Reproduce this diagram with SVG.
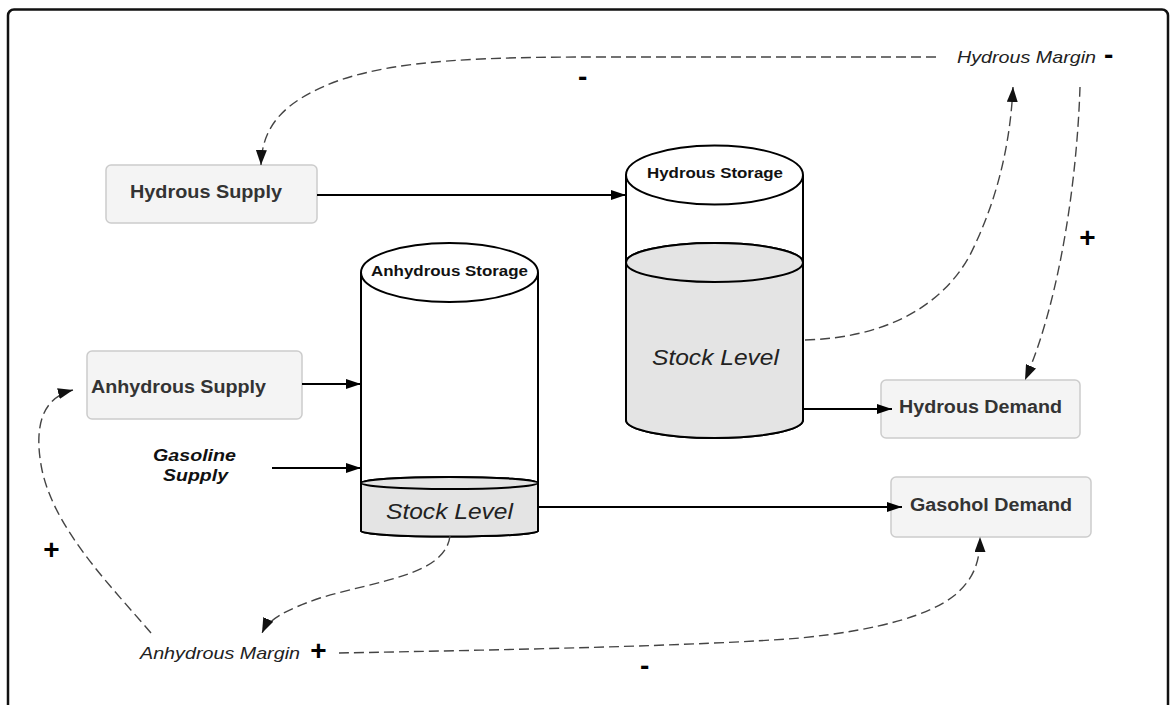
<svg xmlns="http://www.w3.org/2000/svg" width="1174" height="705" viewBox="0 0 1174 705">
  <defs>
    <marker id="arrow" viewBox="0 0 15 10" refX="15" refY="5" markerWidth="15" markerHeight="10" markerUnits="userSpaceOnUse" orient="auto">
      <path d="M0,0 L15,5 L0,10 Z" fill="#000"/>
    </marker>
    <marker id="arrow-d" viewBox="0 0 15 11" refX="15" refY="5.5" markerWidth="15" markerHeight="11" markerUnits="userSpaceOnUse" orient="auto">
      <path d="M0,0 L15,5.5 L0,11 Z" fill="#111"/>
    </marker>
  </defs>
  <style>
    .frame { fill: #fff; stroke: #111; stroke-width: 2.5; }
    .box { fill: #f4f4f4; stroke: #cccccc; stroke-width: 1.5; }
    .box-label { font-family: "Liberation Sans", Arial, sans-serif; font-weight: bold; font-size: 17.5px; fill: #333; }
    .tank { fill: #fff; stroke: #000; stroke-width: 2; }
    .stock { fill: #e4e4e4; stroke: #000; stroke-width: 2; }
    .tank-title { font-family: "Liberation Sans", Arial, sans-serif; font-weight: bold; font-size: 14.5px; fill: #111; }
    .stock-label { font-family: "Liberation Sans", Arial, sans-serif; font-style: italic; font-size: 22px; fill: #222; }
    .var-label { font-family: "Liberation Sans", Arial, sans-serif; font-style: italic; font-size: 17px; fill: #222; }
    .input-label { font-family: "Liberation Sans", Arial, sans-serif; font-style: italic; font-weight: bold; font-size: 17px; fill: #111; }
    .sign { font-family: "Liberation Sans", Arial, sans-serif; font-weight: bold; font-size: 28px; fill: #000; }
    .flow { fill: none; stroke: #000; stroke-width: 2; marker-end: url(#arrow); }
    .link { fill: none; stroke: #444; stroke-width: 1.4; stroke-dasharray: 10 5; marker-end: url(#arrow-d); }
  </style>

  <rect class="frame" x="8" y="9.5" width="1160" height="712" rx="6"/>

  <!-- supply and demand nodes -->
  <g id="hydrous-supply">
    <rect class="box" x="106" y="165" width="211" height="58" rx="5"/>
    <text class="box-label" x="130" y="198" textLength="152" lengthAdjust="spacingAndGlyphs">Hydrous Supply</text>
  </g>
  <g id="anhydrous-supply">
    <rect class="box" x="87" y="351" width="215" height="68" rx="5"/>
    <text class="box-label" x="91" y="393" textLength="175" lengthAdjust="spacingAndGlyphs">Anhydrous Supply</text>
  </g>
  <g id="gasoline-supply">
    <text class="input-label" x="153" y="461" textLength="83" lengthAdjust="spacingAndGlyphs">Gasoline</text>
    <text class="input-label" x="163" y="481" textLength="65" lengthAdjust="spacingAndGlyphs">Supply</text>
  </g>
  <g id="hydrous-demand">
    <rect class="box" x="881" y="380" width="199" height="58" rx="5"/>
    <text class="box-label" x="899" y="413" textLength="163" lengthAdjust="spacingAndGlyphs">Hydrous Demand</text>
  </g>
  <g id="gasohol-demand">
    <rect class="box" x="891" y="477" width="200" height="60" rx="5"/>
    <text class="box-label" x="910" y="511" textLength="162" lengthAdjust="spacingAndGlyphs">Gasohol Demand</text>
  </g>

  <!-- storage tanks -->
  <g id="hydrous-storage">
    <path class="tank" d="M626,175 L626,420 A88.5,18 0 0 0 803,420 L803,175"/>
    <path class="stock" d="M626,262.5 A88.5,19.5 0 0 1 803,262.5 L803,420 A88.5,18 0 0 1 626,420 Z"/>
    <ellipse class="stock" cx="714.5" cy="262.5" rx="88.5" ry="19.5"/>
    <ellipse class="tank" cx="714.5" cy="175" rx="88.5" ry="29.5"/>
    <text class="tank-title" x="647" y="178" textLength="136" lengthAdjust="spacingAndGlyphs">Hydrous Storage</text>
    <text class="stock-label" x="652" y="365" textLength="127" lengthAdjust="spacingAndGlyphs">Stock Level</text>
  </g>
  <g id="anhydrous-storage">
    <path class="tank" d="M361,272.5 L361,531 A88.5,5.5 0 0 0 538,531 L538,272.5"/>
    <path class="stock" d="M361,483 A88.5,6 0 0 1 538,483 L538,531 A88.5,5.5 0 0 1 361,531 Z"/>
    <ellipse class="stock" cx="449.5" cy="483" rx="88.5" ry="6"/>
    <ellipse class="tank" cx="449.5" cy="272.5" rx="88.5" ry="29.5"/>
    <text class="tank-title" x="371" y="276" textLength="157" lengthAdjust="spacingAndGlyphs">Anhydrous Storage</text>
    <text class="stock-label" x="386" y="519" textLength="127" lengthAdjust="spacingAndGlyphs">Stock Level</text>
  </g>

  <!-- margin variables -->
  <g id="hydrous-margin">
    <text class="var-label" x="957" y="63" textLength="139" lengthAdjust="spacingAndGlyphs">Hydrous Margin</text>
    <text class="sign" x="1104" y="64">-</text>
  </g>
  <g id="anhydrous-margin">
    <text class="var-label" x="140" y="659" textLength="160" lengthAdjust="spacingAndGlyphs">Anhydrous Margin</text>
    <text class="sign" x="318.5" y="659.5" text-anchor="middle">+</text>
  </g>

  <!-- flows and causal links -->
  <g id="connectors">
    <path class="flow" d="M317,195 H626"/>
    <path class="flow" d="M302,384 H361"/>
    <path class="flow" d="M272,468 H361"/>
    <path class="flow" d="M803,409 H892"/>
    <path class="flow" d="M538,507 H902"/>

    <path class="link" d="M936,57 L600,57 C480,57 400,60 340,80 C285,100 262,125 261,165"/>
    <path class="link" d="M805,340 C880,338 940,310 970,255 C995,205 1010,150 1013,87"/>
    <path class="link" d="M1080,87 C1077,180 1060,300 1025,380"/>
    <path class="link" d="M450,536 C445,575 380,580 320,598 C285,610 268,620 262,633"/>
    <path class="link" d="M151,633 C110,585 55,530 42,470 C34,430 40,398 73,390"/>
    <path class="link" d="M339,653 C500,650 700,646 800,638 C880,630 930,615 955,595 C975,578 980,560 980,537"/>

    <text class="sign" x="578" y="86">-</text>
    <text class="sign" x="1087.5" y="247" text-anchor="middle">+</text>
    <text class="sign" x="51.5" y="558.5" text-anchor="middle">+</text>
    <text class="sign" x="640" y="675">-</text>
  </g>
</svg>
